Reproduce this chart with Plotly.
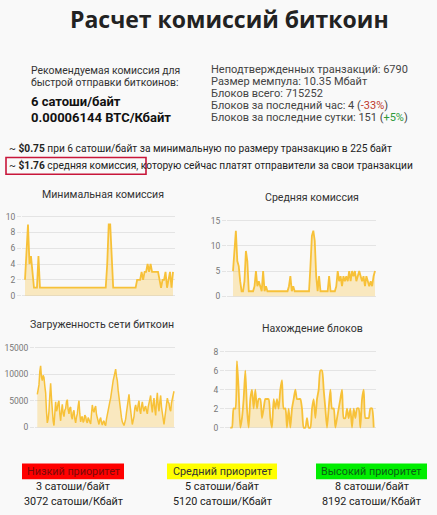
import plotly.graph_objects as go

# ---------------- data ----------------
min_fee = [2, 6, 9, 4, 5, 3, 1, 1, 1, 5, 1, 1, 1, 1, 1, 1, 1, 1, 1, 1,
           1, 1, 1, 1, 1, 1, 1, 1, 1, 1, 1, 1, 1, 1, 1, 1, 1, 1, 1, 1,
           1, 1, 1, 1, 1, 1, 1, 1, 1, 1, 1, 1, 1, 1, 1, 4, 9, 9, 4, 1,
           1, 1, 1, 1, 1, 1, 1, 1, 1, 1, 1, 1, 1, 1, 1, 2, 2, 2, 3, 2,
           3, 3, 4, 3, 4, 3, 3, 3, 3, 3, 2, 1, 2, 2, 3, 1, 2, 3, 1, 3]

avg_fee = [5, 10, 13, 7, 6, 3, 1, 1, 3, 9, 7, 1, 1, 1, 1, 2, 5, 2, 3, 2,
           1, 5, 1, 2, 1, 1, 1, 1, 1, 1, 1, 1, 1, 1, 1, 1, 1, 1, 1, 2,
           4, 1, 2, 1, 1, 1, 1, 1, 1, 1, 1, 1, 1, 1, 6, 12, 13, 11, 4, 1,
           4, 1, 1, 1, 1, 1, 1, 4, 1, 1, 1, 1, 2, 5, 3, 4, 2, 4, 3, 4,
           3, 5, 3, 5, 4, 5, 3, 4, 5, 4, 3, 4, 2, 4, 3, 2, 3, 2, 4, 5]

mempool = [6200, 7200, 8000, 10500, 11600, 9500, 8800, 9800, 9400, 7800,
           6500, 3000, 800, 1500, 3000, 6000, 8300, 5500, 3000, 1200,
           300, 2800, 4800, 3000, 3500, 4600, 5000, 2500, 1200, 3000,
           4300, 2600, 2000, 3200, 3500, 4800, 5200, 3300, 2500, 3600,
           3800, 2000, 1500, 2800, 3200, 1600, 800, 1900, 2500, 4000,
           5000, 2500, 1000, 1800, 2000, 900, 1200, 2300, 2000, 1100,
           800, 1800, 1500, 900, 600, 2500, 4200, 3200, 2800, 3600,
           4000, 2400, 1500, 700, 500, 1400, 1800, 900, 400, 1000,
           1200, 500, 300, 1500, 2500, 3400, 4000, 4800, 5500, 6800,
           7500, 8800, 9500, 10400, 11000, 9600, 8800, 7000, 5500, 4200,
           3000, 1800, 1000, 600, 300, 900, 1500, 2800, 4000, 5300,
           6200, 4500, 3500, 1800, 500, 1200, 2000, 3600, 4200, 3300,
           3000, 4200, 5000, 3200, 2500, 3900, 4800, 3600, 3000, 3700,
           4000, 3100, 2500, 3800, 4500, 5600, 6000, 4000, 2800, 4500,
           5500, 3400, 2200, 4800, 6500, 4200, 3000, 4800, 6000, 3800,
           2500, 1200, 500, 1800, 3000, 4600, 5500, 4800, 4500, 3400,
           3000, 4600, 5500, 6000, 6800]

blocks = [0, 0, 2, 2, 7, 4, 0, 1, 3, 6, 2, 0, 3, 4, 2, 4, 2, 3, 3, 1,
          2, 3, 3, 3, 1, 0, 3, 2, 3, 2, 4, 5, 2, 2, 0, 2, 0, 2, 3, 4,
          3, 3, 3, 2, 0, 0, 1, 0, 0, 2, 3, 1, 3, 4, 6, 6, 4, 2, 0, 2,
          4, 2, 2, 0, 1, 2, 3, 4, 1, 1, 2, 1, 2, 0, 2, 1, 2, 2, 0, 3,
          4, 1, 1, 1, 2, 2, 0]

chart_titles = ["Минимальная комиссия", "Средняя комиссия",
                "Загруженность сети биткоин", "Нахождение блоков"]
ticks_min = [0, 2, 4, 6, 8, 10]
ticks_avg = [0, 5, 10, 15]
ticks_mem = [0, 5000, 10000, 15000]
ticks_blk = [0, 2, 4, 6, 8]

priority_names = ["Низкий приоритет", "Средний приоритет", "Высокий приоритет"]
priority_sat_b = [3, 5, 8]
priority_sat_kb = [3072, 5120, 8192]

# ---------------- geometry helpers ----------------
W, H = 437, 515
BG = "#f9f9f9"
LINE = "#f7c138"
FILL = "rgba(247,193,56,0.30)"


def xcfg(g0, g1, d0, d1, n):
    s = (d1 - d0) / (n - 1)
    return dict(domain=[g0 / W, g1 / W],
                range=[-(d0 - g0) / s, (n - 1) + (g1 - d1) / s])


def ycfg(p0, v0, p1, v1, r0, r1):
    s = (p0 - p1) / (v1 - v0)
    bot = p0 + (v0 - r0) * s
    top = p1 - (r1 - v1) * s
    return dict(domain=[1 - bot / H, 1 - top / H], range=[r0, r1])


fig = go.Figure()

charts = [
    (min_fee, ticks_min, (22, 175, 25, 173), (296.5, 0, 216.7, 10, -0.35, 10.4), "linear", 1.8),
    (avg_fee, ticks_avg, (227, 376, 233, 375), (297.2, 0, 220.8, 15, -0.5, 15.6), "linear", 1.8),
    (mempool, ticks_mem, (35, 175, 37.3, 174), (429.3, 0, 349.3, 15000, -500, 15500), "linear", 1.5),
    (blocks, ticks_blk, (225, 376, 230.3, 373.7), (429.7, 0, 353, 8, -0.25, 8.3), "spline", 1.8),
]

title_pos = [(103, 194), (312, 197), (102, 326), (312, 330)]

for i, (vals, tv, xg, yg, shape, lw) in enumerate(charts):
    k = "" if i == 0 else str(i + 1)
    fig.add_trace(go.Scatter(
        x=list(range(len(vals))), y=vals, mode="lines",
        line=dict(color=LINE, width=lw, shape=shape, smoothing=0.6),
        fill="tozeroy", fillcolor=FILL, hoverinfo="skip",
        xaxis="x" + k, yaxis="y" + k, showlegend=False))
    xc = xcfg(*xg, len(vals))
    yc = ycfg(*yg)
    fig.update_layout(**{
        "xaxis" + k: dict(domain=xc["domain"], range=xc["range"], showgrid=False,
                          zeroline=False, showticklabels=False, ticks="",
                          anchor="y" + k, fixedrange=True),
        "yaxis" + k: dict(domain=yc["domain"], range=yc["range"], tickvals=tv,
                          ticktext=[str(v) for v in tv],
                          showgrid=True, gridcolor="#e4e4e4", gridwidth=1,
                          zeroline=False, ticks="outside", ticklen=4,
                          tickcolor="#e4e4e4",
                          tickfont=dict(family="Roboto", size=8.5, color="#777"),
                          anchor="x" + k, fixedrange=True),
    })

annotations = []


def ann(x, y, text, size, color="#333", xanchor="left", family="Roboto"):
    annotations.append(dict(x=x / W, y=1 - y / H, xref="paper", yref="paper",
                            text=text, showarrow=False, xanchor=xanchor,
                            yanchor="middle",
                            font=dict(family=family, size=size, color=color)))


for t, (cx, cy) in zip(chart_titles, title_pos):
    ann(cx, cy, t, 10.6, "#333", "center")

# header
ann(229.5, 17, "<b>Расчет комиссий биткоин</b>", 23, "#222", "center", "Open Sans")
ann(29, 69.5, "Рекомендуемая комиссия для", 10.4, "#333")
ann(29, 81.5, "быстрой отправки биткоинов:", 10.4, "#333")
ann(29, 100, "<b>6 сатоши/байт</b>", 13, "#111")
ann(29, 117, "<b>0.00006144 BTC/Кбайт</b>", 13, "#111")

right_lines = [
    "Неподтвержденных транзакций: 6790",
    "Размер мемпула: 10.35 Мбайт",
    "Блоков всего: 715252",
    "Блоков за последний час: 4 (<span style='color:#c0392b'>-33%</span>)",
    "Блоков за последние сутки: 151 (<span style='color:#2e9a3a'>+5%</span>)",
]
for j, t in enumerate(right_lines):
    ann(209, 68 + j * 12.2, t, 11, "#444")

ann(7, 147, "~ <b>$0.75</b> при 6 сатоши/байт за минимальную по размеру транзакцию в 225 байт", 10.2, "#222")
ann(7, 164.5, "~ <b>$1.76</b> средняя комиссия, которую сейчас платят отправители за свои транзакции", 10.2, "#222")

shapes = [dict(type="rect", xref="paper", yref="paper",
               x0=6 / W, x1=146 / W, y0=1 - 174 / H, y1=1 - 157 / H,
               line=dict(color="#c8163a", width=1.6), fillcolor="rgba(0,0,0,0)")]

# priorities
box_x = [(22, 124), (167, 277), (316, 427)]
box_fill = ["#ff0000", "#ffff00", "#00ee00"]
box_text = ["#7a0a0a", "#333333", "#0b5e14"]
for (x0, x1), fc, tc, name, sb, skb in zip(box_x, box_fill, box_text,
                                           priority_names, priority_sat_b, priority_sat_kb):
    shapes.append(dict(type="rect", xref="paper", yref="paper",
                       x0=x0 / W, x1=x1 / W, y0=1 - 482 / H, y1=1 - 466 / H,
                       line=dict(width=0), fillcolor=fc, layer="below"))
    cx = (x0 + x1) / 2
    ann(cx, 474, name, 10.8, tc, "center")
    ann(cx, 489, f"{sb} сатоши/байт", 10.8, "#222", "center")
    ann(cx, 504, f"{skb} сатоши/Кбайт", 10.8, "#222", "center")

fig.update_layout(width=W, height=H, margin=dict(l=0, r=0, t=0, b=0),
                  paper_bgcolor=BG, plot_bgcolor=BG,
                  annotations=annotations, shapes=shapes, showlegend=False)

fig.write_html("out.html", config={"displayModeBar": False})
